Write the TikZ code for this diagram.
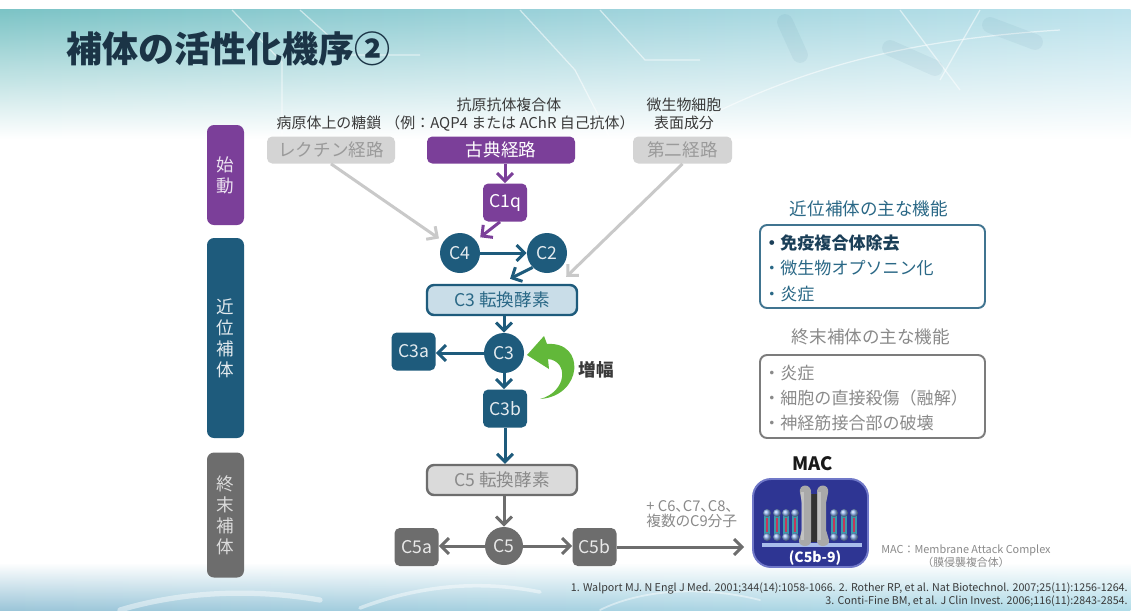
\documentclass[tikz,border=0pt]{standalone}
\usepackage{fontspec}
\usepackage{graphicx}
\setmainfont{Noto Sans CJK JP}
\usetikzlibrary{arrows.meta,fadings,calc}

\definecolor{purp}{HTML}{7B3F99}
\definecolor{tealc}{HTML}{1E5B7C}
\definecolor{grayc}{HTML}{6D6D6D}
\definecolor{lgray}{HTML}{D4D4D4}
\definecolor{lgtext}{HTML}{9A9A9A}
\definecolor{arrlg}{HTML}{C9C9C9}
\definecolor{c3fill}{HTML}{C9DDE8}
\definecolor{c5fill}{HTML}{DADADA}
\definecolor{c5text}{HTML}{8A8A8A}
\definecolor{titlec}{HTML}{1B3446}
\definecolor{greenc}{HTML}{62B83A}
\definecolor{macblue}{HTML}{2E3593}
\definecolor{macedge}{HTML}{7078C8}
\definecolor{bgL}{HTML}{7CC4C6}
\definecolor{bgM}{HTML}{9CD2DA}
\definecolor{bgR}{HTML}{BCE2EC}
\definecolor{botL}{HTML}{9CC6D9}
\definecolor{botR}{HTML}{B2DDE9}
\definecolor{textd}{HTML}{3A3A3A}
\definecolor{tealtext}{HTML}{2A6886}
\definecolor{boldtext}{HTML}{1B3F58}
\definecolor{gtext}{HTML}{8A8A8A}
\definecolor{ballc}{HTML}{8FB4F0}
\definecolor{tailteal}{HTML}{3C9AAA}
\definecolor{tailred}{HTML}{C2385C}
\definecolor{porec}{HTML}{A9A9A9}
\definecolor{membc}{HTML}{A9BCEB}

\tikzfading[name=fadedown, top color=transparent!0, bottom color=transparent!100]
\tikzfading[name=fadeup, top color=transparent!100, bottom color=transparent!0]

\newcommand{\pxu}{0.02cm}
\newcommand{\fsz}[2]{\fontsize{#1pt}{#2pt}\selectfont}

\tikzset{
  sidebar/.style={rectangle, rounded corners=4pt, minimum width=37*\pxu, inner sep=0pt,
    align=center, font=\fsz{10}{12}},
  pathbox/.style={rectangle, rounded corners=3pt, minimum height=27*\pxu, inner sep=0pt,
    font=\fsz{10}{12}},
  lectbox/.style={pathbox, fill=lgray, text=lgtext},
  convbox/.style={rectangle, rounded corners=4pt, minimum width=150*\pxu, minimum height=30*\pxu,
    inner sep=0pt, line width=1.4pt, font=\fsz{10}{12}},
  sq/.style={rectangle, rounded corners=3pt, minimum width=44*\pxu, minimum height=38*\pxu,
    inner sep=0pt, font=\fsz{10}{12}},
  circ/.style={circle, minimum size=40*\pxu, inner sep=0pt, font=\fsz{10}{12}},
  arr/.style={-{Straight Barb[length=4.5pt,width=9pt]}, line width=1.7pt},
  toplabel/.style={font=\fsz{8.5}{10.5}, text=textd, inner sep=0pt},
  item/.style={anchor=west, font=\fsz{9.7}{11}, inner sep=0pt},
  fnhead/.style={font=\fsz{10}{12}, inner sep=0pt},
  fnbox/.style={rectangle, rounded corners=4pt, minimum width=225*\pxu, minimum height=83*\pxu,
    line width=1.1pt, inner sep=0pt},
}

\begin{document}
\begin{tikzpicture}[x=0.02cm, y=-0.02cm]
\useasboundingbox (0,0) rectangle (1132,610);

% ---------- background bands ----------
\fill[white] (0,0) rectangle (1132,610);
\shade[left color=bgL, right color=bgR, middle color=bgM, path fading=fadedown]
  (0,10) rectangle (1132,138);
\begin{scope}[white, opacity=0.55, line width=0.7pt]
  \draw (232,10) -- (282,62) -- (282,138);
  \draw (300,10) -- (350,55) -- (420,55);
  \draw (520,10) -- (575,70) -- (610,138);
  \draw (600,10) -- (645,60) -- (700,60);
  \draw (700,120) .. controls (800,70) and (900,40) .. (1060,30);
  \draw (900,10) -- (960,90);
  \draw (980,10) -- (940,80);
\end{scope}
\begin{scope}[tealc, opacity=0.06, line width=9pt, line cap=round]
  \draw (785,22) -- (800,55);
  \draw (890,48) -- (935,68);
  \draw (990,25) -- (1035,42);
\end{scope}
\shade[left color=botL, right color=botR, path fading=fadeup]
  (0,563) rectangle (1132,610);
\begin{scope}[white, opacity=0.45, line cap=round]
  \draw[line width=3pt] (120,610) .. controls (180,592) and (250,588) .. (320,600);
  \draw[line width=2pt] (360,608) .. controls (420,585) and (480,580) .. (540,592);
  \draw[line width=1pt] (600,610) .. controls (640,590) and (700,585) .. (760,600);
\end{scope}

% ---------- title ----------
\node[anchor=west, inner sep=0pt, font=\bfseries\fsz{20.5}{24}, text=titlec] (title) at (66,49)
  {補体の活性化機序②};

% ---------- stage bars ----------
\node[sidebar, fill=purp, text=purp!15, minimum height=100*\pxu] (bar1) at (225.5,175) {始\\動};
\node[sidebar, fill=tealc, text=tealc!12, minimum height=200*\pxu] (bar2) at (225.5,338) {近\\位\\補\\体};
\node[sidebar, fill=grayc, text=grayc!25, minimum height=125*\pxu] (bar3) at (225.5,515) {終\\末\\補\\体};

% ---------- initiating pathways ----------
\node[toplabel] (lectlab) at (329,123) {病原体上の糖鎖};
\node[toplabel] (classlab1) at (509,105) {抗原抗体複合体};
\node[toplabel] (classlab2) at (510,123) {（例：AQP4 または AChR 自己抗体）};
\node[toplabel] (altlab1) at (684,105) {微生物細胞};
\node[toplabel] (altlab2) at (684,123) {表面成分};

\node[lectbox, minimum width=128*\pxu] (lectin) at (331,150) {レクチン経路};
\node[pathbox, fill=purp, text=white, minimum width=148*\pxu] (classic) at (501,150) {古典経路};
\node[lectbox, minimum width=99*\pxu] (altp) at (682.5,150) {第二経路};

\node[sq, fill=purp, text=white] (c1q) at (505,202.5) {C1q};

% ---------- proximal cascade ----------
\node[circ, fill=tealc, text=tealc!12] (c4) at (460,253) {C4};
\node[circ, fill=tealc, text=tealc!12] (c2) at (547,253) {C2};
\node[convbox, fill=c3fill, draw=tealc, text=tealtext] (c3conv) at (502,300) {C3 転換酵素};
\node[circ, fill=tealc, text=tealc!12] (c3) at (504,353) {C3};
\node[sq, fill=tealc, text=tealc!12] (c3a) at (413.5,351.5) {C3a};
\node[sq, fill=tealc, text=tealc!12] (c3b) at (505,408.5) {C3b};

% amplification loop
\fill[greenc] (540,399) .. controls (583,396) and (586,341) .. (547,344)
  -- (544,336) -- (527,355) -- (549,369) -- (548,359)
  .. controls (569,361) and (567,392) .. (540,399) -- cycle;
\node[inner sep=0pt, font=\bfseries\fsz{10}{12}, text=textd] (amp) at (596,370) {増幅};

% ---------- terminal cascade ----------
\node[convbox, fill=c5fill, draw=grayc, text=c5text] (c5conv) at (502,480) {C5 転換酵素};
\node[circ, fill=grayc, text=grayc!15, minimum size=38*\pxu] (c5) at (504,546) {C5};
\node[sq, fill=grayc, text=grayc!15] (c5a) at (416.5,547) {C5a};
\node[sq, fill=grayc, text=grayc!15] (c5b) at (594.5,547) {C5b};

\node[anchor=west, align=left, inner sep=0pt, text=gtext,
  font=\fsz{8.4}{7.4}\addfontfeature{RawFeature=+palt}] (c6txt) at (646,514)
  {+ C6、C7、C8、\\複数のC9分子};

% ---------- MAC ----------
\node[inner sep=0pt, font=\bfseries\fsz{10.5}{12}, text=black!90] (maclab) at (813,464) {MAC};
\node[rectangle, rounded corners=0.36cm, minimum width=115*\pxu, minimum height=88*\pxu,
  fill=macblue, draw=macedge, line width=1.1pt] (mac) at (810.5,523) {};
% membrane base
\draw[membc, line width=2.2pt] (762,545) -- (862,545);
% lipid bilayer
\foreach \lx in {767,777,786,795,834,844,854}{
  \fill[tailteal] (\lx-2.8,515) rectangle (\lx+2.8,535);
  \fill[tailred] (\lx-0.7,518) rectangle (\lx+0.7,532);
  \shade[ball color=ballc] (\lx,513) circle (4);
  \shade[ball color=ballc] (\lx,537) circle (4);
}
% pore
\fill[black!80] (810,494) rectangle (818,542);
\fill[porec] (800,493) .. controls (798,483) and (812,483) .. (811,493) -- (811,540)
  .. controls (812,548) and (798,548) .. (799,540) -- (802,530) -- (802,503) -- cycle;
\fill[porec] (828,493) .. controls (830,483) and (816,483) .. (817,493) -- (817,540)
  .. controls (816,548) and (830,548) .. (829,540) -- (826,530) -- (826,503) -- cycle;
\fill[white, opacity=0.3] (801,492) rectangle (804,540);
\fill[white, opacity=0.3] (818,492) rectangle (821,540);
\node[inner sep=0pt, font=\bfseries\fsz{8}{9}, text=white] (macsub) at (815,558) {(C5b-9)};

\node[align=center, inner sep=0pt, text=gtext, font=\fsz{6.2}{7.4}] (macnote) at (966,556.5)
  {MAC：Membrane Attack Complex\\（膜侵襲複合体）};

% ---------- connectors ----------
\draw[arr, arrlg, shorten >=3pt] (lectin.south) -- (c4);
\draw[arr, arrlg] (altp.south) -- ($(c3conv.north east)+(-12,-7)$);
\draw[arr, purp] (c1q.north |- classic.south) -- (c1q.north);
\draw[arr, purp, shorten >=3pt] ($(c1q.south)+(-5,0)$) -- (c4);
\draw[arr, tealc] (c4) -- (c2);
\draw[arr, tealc] (c2.225) -- ($(c3conv.north)+(8,-5)$);
\draw[arr, tealc] (c3conv.south -| c3) -- (c3.north);
\draw[arr, tealc] (c3.west) -- (c3.west -| c3a.east);
\draw[arr, tealc] (c3.south) -- (c3.south |- c3b.north);
\draw[arr, tealc] (c3b.south) -- (c3b.south |- c5conv.north);
\draw[arr, grayc] (c5.north |- c5conv.south) -- (c5.north);
\draw[arr, grayc] (c5.west) -- (c5.west -| c5a.east);
\draw[arr, grayc] (c5.east) -- (c5.east -| c5b.west);
\draw[arr, grayc, shorten >=8*\pxu] (c5b.east) -- (c5b.east -| mac.west);

% ---------- function panels ----------
\node[fnhead, text=tealtext] (proxhead) at (869,209) {近位補体の主な機能};
\node[fnbox, draw=tealc!85] (proxbox) at (872.5,266.5) {};
\node[item, font=\bfseries\fsz{9.7}{11}, text=boldtext] (p1) at (763,243) {・免疫複合体除去};
\node[item, text=tealtext] (p2) at (763,268) {・微生物オプソニン化};
\node[item, text=tealtext] (p3) at (763,294) {・炎症};

\node[fnhead, text=gtext] (termhead) at (871,337) {終末補体の主な機能};
\node[fnbox, draw=grayc!90] (termbox) at (872.5,396.5) {};
\node[item, text=gtext] (t1) at (763,373) {・炎症};
\node[item, text=gtext] (t2) at (763,398) {・細胞の直接殺傷（融解）};
\node[item, text=gtext] (t3) at (763,423) {・神経筋接合部の破壊};

% ---------- references ----------
\node[anchor=east, align=right, inner sep=0pt, text=textd, font=\fsz{6.1}{7.4}] (refs) at (1128,594.5)
  {1. Walport MJ. N Engl J Med. 2001;344(14):1058-1066. 2. Rother RP, et al. Nat Biotechnol. 2007;25(11):1256-1264.\\
   3. Conti-Fine BM, et al. J Clin Invest. 2006;116(11):2843-2854.};
\end{tikzpicture}
\end{document}
